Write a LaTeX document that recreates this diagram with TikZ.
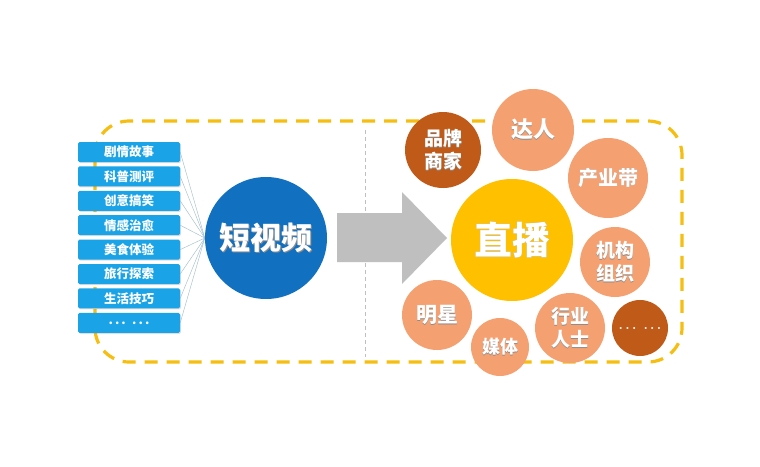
\documentclass[tikz,border=0pt]{standalone}
\usepackage{fontspec}
\usetikzlibrary{shadows}
\newfontfamily\cjk{Noto Sans CJK SC}
\definecolor{boxblue}{HTML}{1AA3E6}
\definecolor{darkblue}{HTML}{1170BF}
\definecolor{gold}{HTML}{FFC000}
\definecolor{peach}{HTML}{F5A070}
\definecolor{rust}{HTML}{C05A18}
\definecolor{dashgold}{HTML}{F5BE10}
\definecolor{arrowgray}{HTML}{BFBFBF}
\tikzset{
  tagbox/.style={fill=boxblue, rounded corners=1.5pt, minimum width=102pt, minimum height=20pt, inner sep=0pt, text=white, font=\cjk\bfseries\fontsize{12.5}{14}\selectfont, drop shadow={shadow xshift=1pt, shadow yshift=-1pt, opacity=0.25}},
  bubble/.style={circle, fill=peach, inner sep=0pt, text=white, align=center, font=\cjk\bfseries\fontsize{19}{23}\selectfont},
  darkbubble/.style={bubble, fill=rust},
  spoke/.style={draw=boxblue!35!gray!60, line width=0.4pt},
}
\newcommand\dotsgap{.\,.\,.\enspace.\,.\,.}
\newcommand\sh[1]{\leavevmode\rlap{\kern0.9pt\raisebox{-0.9pt}{\textcolor{black!45}{#1}}}#1}
\begin{document}
\begin{tikzpicture}[x=1pt,y=-1pt]
\useasboundingbox (0,0) rectangle (760,466);
\fill[white] (0,0) rectangle (760,466);
% dashed frame
\draw[dashgold, line width=3.2pt, dash pattern=on 13pt off 9pt, rounded corners=34pt] (95,121) rectangle (682,362);
% gray dashed divider
\coordinate (dtop) at (365,130);
\coordinate (dbot) at (365,357);
\draw[arrowgray, line width=0.8pt, dash pattern=on 4pt off 3pt] (dtop) -- (dbot);
% tags
\foreach \t [count=\i] in {剧情故事,科普测评,创意搞笑,情感治愈,美食体验,旅行探索,生活技巧} {
  \node[tagbox] (b\i) at (129, {152+24.4*(\i-1)}) {\t};
}
\node[tagbox] (b8) at (129, {152+24.4*7}) {\dotsgap};
% short video circle
\node[circle, fill=darkblue, minimum size=122pt, inner sep=0pt, text=white, font=\cjk\bfseries\fontsize{31}{33}\selectfont] (sv) at (266,238) {\sh{短视频}};
\foreach \i in {1,...,8} { \draw[spoke] (b\i.east) -- (sv.west); }
% big arrow
\fill[arrowgray] (337,213) -- (402,213) -- (402,192) -- (447,238) -- (402,284) -- (402,262) -- (337,262) -- cycle;
% live circle
\node[circle, fill=gold, minimum size=122pt, inner sep=0pt, text=white, font=\cjk\bfseries\fontsize{38}{40}\selectfont] (zb) at (512,240) {\sh{直播}};
% bubbles
\node[darkbubble, minimum size=76pt] (pp) at (443,150) {\sh{品牌}\\\sh{商家}};
\node[bubble, minimum size=82pt, font=\cjk\bfseries\fontsize{22}{24}\selectfont] (dr) at (533,130) {\sh{达人}};
\node[bubble, minimum size=80pt, font=\cjk\bfseries\fontsize{20}{22}\selectfont] (cyd) at (608,178) {\sh{产业带}};
\node[bubble, minimum size=70pt] (jg) at (615,262) {\sh{机构}\\\sh{组织}};
\node[bubble, minimum size=70pt, font=\cjk\bfseries\fontsize{21}{23}\selectfont] (mx) at (437,315) {\sh{明星}};
\node[bubble, minimum size=58pt, font=\cjk\bfseries\fontsize{18}{20}\selectfont] (mt) at (500,347) {\sh{媒体}};
\node[bubble, minimum size=70pt] (hy) at (570,328) {\sh{行业}\\\sh{人士}};
\node[darkbubble, minimum size=56pt, font=\bfseries\fontsize{14}{16}\selectfont] (more) at (640,328) {\dotsgap};
\end{tikzpicture}
\end{document}
